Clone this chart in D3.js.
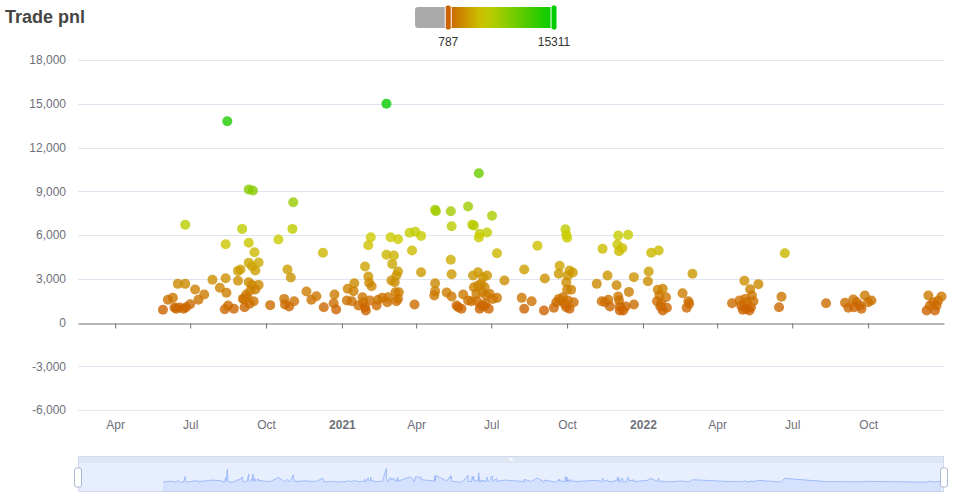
<!DOCTYPE html>
<html><head><meta charset="utf-8">
<script src="https://cdn.jsdelivr.net/npm/d3@7"></script>
<style>
body{margin:0;background:#fff;}
svg{display:block;font-family:"Liberation Sans",Arial,Helvetica,sans-serif;}
</style>
</head><body>
<svg id="chart" width="972" height="500"></svg>
<script>
const chartTitle = "Trade pnl";

const tradeDates = [
"2020-08-15","2020-09-10","2020-09-15","2020-11-03","2020-06-25","2020-09-02","2020-11-02","2020-08-13","2020-09-10","2020-10-16",
"2020-09-17","2020-12-09","2020-09-22","2020-09-10","2020-09-14","2020-09-18","2020-08-31","2020-08-28","2020-10-27","2020-10-31",
"2020-07-28","2020-08-13","2020-08-28","2020-06-16","2020-06-25","2020-08-06","2020-08-14","2020-09-10","2020-09-14","2020-09-22",
"2020-09-18","2020-09-12","2020-09-07","2020-09-04","2020-07-07","2020-07-18","2020-07-11","2020-06-10","2020-06-04","2020-07-01",
"2020-05-29","2020-06-12","2020-06-18","2020-06-23","2020-06-26","2020-06-14","2020-08-12","2020-08-16","2020-08-23","2020-09-05",
"2020-09-11","2020-09-16","2020-09-03","2020-09-08","2020-10-06","2020-10-23","2020-10-24","2020-10-29","2020-11-04","2020-11-19",
"2020-11-25","2020-12-01","2020-12-10","2021-02-24","2021-06-16","2021-04-24","2021-04-25","2021-05-13","2021-06-03","2021-07-02",
"2021-05-14","2021-06-08","2021-06-10","2021-06-17","2021-06-26","2021-06-16","2021-07-08","2021-08-26","2021-02-05","2021-02-02",
"2021-03-01","2021-03-10","2021-02-24","2021-03-05","2021-03-03","2021-03-24","2021-03-31","2021-04-07","2021-03-27","2021-01-29",
"2021-02-02","2021-02-03","2021-02-06","2021-03-10","2021-03-08","2021-03-06","2021-03-02","2021-04-07","2021-05-13","2021-05-14",
"2021-01-16","2021-01-08","2021-01-15","2020-12-23","2020-12-22","2020-12-25","2021-01-07","2021-01-13","2021-01-21","2021-01-27",
"2021-01-29","2021-01-30","2021-01-26","2021-02-04","2021-02-12","2021-02-14","2021-02-19","2021-02-25","2021-02-26","2021-03-07",
"2021-03-11","2021-03-08","2021-03-10","2021-03-30","2021-04-24","2021-04-24","2021-04-23","2021-05-08","2021-05-14","2021-05-20",
"2021-05-26","2021-05-22","2021-05-28","2021-06-03","2021-06-07","2021-06-09","2021-06-15","2021-06-21","2021-06-26","2021-06-10",
"2021-06-15","2021-06-19","2021-06-23","2021-06-13","2021-06-20","2021-06-25","2021-06-29","2021-07-03","2021-07-08","2021-06-14",
"2021-06-19","2021-06-24","2021-06-28","2021-06-17","2021-06-22","2021-07-17","2021-08-07","2021-08-10","2021-08-19","2021-08-10",
"2021-09-04","2021-09-03","2021-09-29","2021-09-30","2021-10-01","2021-12-02","2021-12-14","2021-12-01","2021-12-03","2021-12-07",
"2021-11-13","2022-01-11","2022-01-20","2021-09-22","2021-09-21","2021-10-04","2021-10-08","2021-10-02","2021-09-30","2021-10-01",
"2021-10-06","2021-09-21","2021-09-24","2021-09-26","2021-09-18","2021-09-28","2021-09-30","2021-10-04","2021-10-09","2021-10-02",
"2021-09-15","2021-11-19","2021-11-06","2021-11-30","2021-12-15","2021-12-21","2021-12-21","2021-11-12","2021-11-16","2021-11-20",
"2021-11-22","2021-12-02","2021-12-03","2021-12-04","2021-12-08","2021-12-04","2021-12-11","2022-01-08","2022-01-07","2022-01-19",
"2022-01-25","2022-01-21","2022-01-29","2022-01-18","2022-01-22","2022-01-25","2022-01-30","2022-01-23","2022-03-02","2022-02-18",
"2022-02-25","2022-02-23","2022-02-26","2022-06-22","2022-05-04","2022-05-21","2022-05-11","2022-05-13","2022-06-18","2022-04-19",
"2022-04-28","2022-05-05","2022-05-07","2022-04-30","2022-05-06","2022-05-12","2022-05-15","2022-05-02","2022-05-10","2022-06-15",
"2022-08-11","2022-09-03","2022-09-07","2022-09-13","2022-09-17","2022-09-21","2022-09-23","2022-09-27","2022-10-01","2022-10-05",
"2022-09-14","2022-12-13","2022-12-29","2022-12-19","2022-12-25","2022-12-11","2022-12-21","2022-12-15","2022-12-23"
];

const tradePnl = [
13800,9120,9050,8250,6700,6420,6420,5370,5470,5690,
4820,4780,4110,4090,3860,3570,3630,3540,3630,3090,
2930,3040,2860,2650,2650,2380,2040,2760,2580,2580,
2260,2190,1920,1620,2260,1920,1560,1690,1560,1250,
870,1030,1030,940,1050,940,910,1170,940,1050,
1280,1460,1620,1730,1190,1620,1230,1100,1460,2130,
1560,1800,1050,15000,10240,7730,7630,7630,7950,7320,
6600,6700,6650,6080,6170,5830,4750,5260,5850,5300,
5850,5710,4640,4590,4020,6150,6220,5940,4940,3840,
3150,2720,2490,3500,3220,2760,2880,3450,4300,3310,
2690,2310,2150,1920,1320,890,1510,1460,1170,1390,
1050,820,1730,1510,1170,1560,1690,1390,1730,2080,
2080,1460,1620,1230,2690,2150,1850,2060,1780,1170,
940,1050,1920,1510,1460,3220,3450,3110,3220,2420,
2540,2650,2420,1970,2080,1850,1970,1620,1690,1460,
1170,1280,940,940,1100,2880,1690,940,1460,3630,
3020,820,6400,6010,5810,5970,6010,5350,4890,5100,
5050,4780,4940,3890,3340,3570,3430,3220,2760,2240,
2240,1620,1510,1730,1390,1280,1050,940,1390,1510,
1010,3220,2650,2560,2100,3110,1230,1460,1390,1560,
1100,1780,1510,1100,820,820,1100,3500,2830,2240,
2310,1850,1730,1460,1100,820,1010,1280,3340,2010,
1460,1010,1280,4750,2860,2630,2280,1850,1760,1320,
1510,1620,1390,1170,940,1050,1460,870,820,1050,
1320,1350,1010,1580,1390,1170,940,1850,1390,1510,
1050,1850,1780,1390,1510,820,820,1170,1170
];

const yTicks = [-6000,-3000,0,3000,6000,9000,12000,15000,18000];
const xTickDates = ["2020-04-01","2020-07-01","2020-10-01","2021-01-01","2021-04-01","2021-07-01","2021-10-01","2022-01-01","2022-04-01","2022-07-01","2022-10-01"];
const xTickLabels = ["Apr","Jul","Oct","2021","Apr","Jul","Oct","2022","Apr","Jul","Oct"];
const xDomain = ["2020-02-16","2023-01-01"];

const visualMin = -3778, visualMax = 15311;
const rangeMin = 787, rangeMax = 15311;
const visualColors = ["#cc0000","#cccc00","#00cc00"];

const svg = d3.select("#chart");
const parse = d3.utcParse("%Y-%m-%d");
const data = tradeDates.map((d,i)=>({date:parse(d), value:tradePnl[i]}));

const L=78, R=944, T=60, B=410;
const x = d3.scaleUtc().domain(xDomain.map(parse)).range([L,R]);
const y = d3.scaleLinear().domain([yTicks[0], yTicks[yTicks.length-1]]).range([B,T]);
const color = d3.scaleLinear()
  .domain([visualMin,(visualMin+visualMax)/2,visualMax])
  .range(visualColors).clamp(true);
const numFmt = d3.formatLocale({decimal:".", thousands:",", grouping:[3], currency:["",""], minus:"-"}).format(",");

// title
svg.append("text").attr("x",5).attr("y",23).text(chartTitle)
  .attr("font-size",18).attr("font-weight","bold").attr("fill","#464646");

// grid lines
svg.append("g").selectAll("line").data(yTicks.filter(t=>t!==0)).join("line")
  .attr("x1",L).attr("x2",R)
  .attr("y1",d=>Math.round(y(d))+0.5).attr("y2",d=>Math.round(y(d))+0.5)
  .attr("stroke","#e0e6f1").attr("stroke-width",1);

// y axis labels
const yAxis = svg.append("g").attr("transform",`translate(${L},0)`)
  .call(d3.axisLeft(y).tickValues(yTicks).tickSize(0).tickPadding(12).tickFormat(numFmt));
yAxis.select(".domain").remove();
yAxis.selectAll("text").attr("font-size",12).attr("fill","#6e7079").attr("font-family",null);

// x axis line at zero with ticks
const y0 = Math.round(y(0))+0.5;
const xLine = svg.append("g").attr("transform",`translate(0,${y0})`)
  .call(d3.axisBottom(x).tickValues(xTickDates.map(parse)).tickSize(5).tickSizeOuter(0).tickFormat(""));
xLine.select(".domain").attr("stroke","#6e7079");
xLine.selectAll(".tick line").attr("stroke","#6e7079");

// x labels at bottom
const xLab = svg.append("g").attr("transform",`translate(0,${B})`)
  .call(d3.axisBottom(x).tickValues(xTickDates.map(parse)).tickSize(0).tickPadding(10)
     .tickFormat((d,i)=>xTickLabels[i]));
xLab.select(".domain").remove();
xLab.selectAll("text").attr("font-size",12).attr("fill","#6e7079").attr("font-family",null)
  .attr("font-weight",d=>d.getUTCMonth()===0?"bold":"normal");

// points
svg.append("g").selectAll("circle").data(data).join("circle")
  .attr("cx",d=>x(d.date)).attr("cy",d=>y(d.value)).attr("r",5)
  .attr("fill",d=>color(d.value)).attr("fill-opacity",0.8);

// visual map
const vm = d3.scaleLinear().domain([visualMin, visualMax]).range([415,554]);
const vmY=7, vmH=21, rr=3;
const gx0 = vm(visualMin), gx1 = vm(rangeMin);
svg.append("path")
  .attr("d",`M${gx0+rr},${vmY} H${gx1} V${vmY+vmH} H${gx0+rr} Q${gx0},${vmY+vmH} ${gx0},${vmY+vmH-rr} V${vmY+rr} Q${gx0},${vmY} ${gx0+rr},${vmY} Z`)
  .attr("fill","#aaaaaa");
const defs = svg.append("defs");
const grad = defs.append("linearGradient").attr("id","vmGrad").attr("x1","0%").attr("x2","100%");
d3.range(0,1.0001,0.1).forEach(t=>{
  const v = rangeMin + t*(rangeMax-rangeMin);
  grad.append("stop").attr("offset",(t*100)+"%").attr("stop-color",color(v));
});
svg.append("rect").attr("x",vm(rangeMin)).attr("y",vmY).attr("width",vm(rangeMax)-vm(rangeMin)).attr("height",vmH)
  .attr("fill","url(#vmGrad)");
[rangeMin, rangeMax].forEach(v=>{
  svg.append("rect").attr("x",vm(v)-3).attr("y",vmY-2).attr("width",6).attr("height",vmH+4).attr("rx",2.5)
    .attr("fill",color(v)).attr("stroke","#fff").attr("stroke-width",1);
  svg.append("text").attr("x",vm(v)).attr("y",46).attr("text-anchor","middle")
    .attr("font-size",12).attr("fill","#333").text(v);
});

// data zoom slider
const dzTop=456, dzMove=7, dzB=492;
svg.append("rect").attr("x",L).attr("y",dzTop).attr("width",R-L).attr("height",dzMove)
  .attr("fill","#d2dbee").attr("fill-opacity",0.7);
svg.append("rect").attr("x",L).attr("y",dzTop+dzMove).attr("width",R-L).attr("height",dzB-dzTop-dzMove)
  .attr("fill","rgb(135,175,255)").attr("fill-opacity",0.2);
svg.append("rect").attr("x",L+0.5).attr("y",dzTop+0.5).attr("width",R-L-1).attr("height",dzB-dzTop-1)
  .attr("fill","none").attr("stroke","#d2dbee");
const sorted = data.slice().sort((a,b)=>a.date-b.date);
const ext = d3.extent([visualMin, ...tradePnl]);
const pad = (ext[1]-ext[0])*0.3;
const py = d3.scaleLinear().domain([ext[0]-pad, ext[1]+pad]).range([dzB, dzTop+dzMove]);
svg.append("path").datum(sorted)
  .attr("d",d3.area().x(d=>x(d.date)).y0(dzB).y1(d=>py(d.value)))
  .attr("fill","#8fb0f7").attr("fill-opacity",0.2);
svg.append("path").datum(sorted)
  .attr("d",d3.line().x(d=>x(d.date)).y(d=>py(d.value)))
  .attr("fill","none").attr("stroke","#8fb0f7").attr("stroke-width",0.8);
// move handle icon
const mx=(L+R)/2;
[-2,0,2].forEach(o=>svg.append("line").attr("x1",mx+o+0.5).attr("x2",mx+o+0.5).attr("y1",dzTop+2).attr("y2",dzTop+5)
  .attr("stroke","#fff").attr("stroke-width",1));
// handles
[L,R].forEach(hx=>{
  svg.append("rect").attr("x",hx-3.5).attr("y",468).attr("width",7).attr("height",19).attr("rx",2)
    .attr("fill","#fff").attr("stroke","#acb8d1").attr("stroke-width",1);
});
</script>
</body></html>
